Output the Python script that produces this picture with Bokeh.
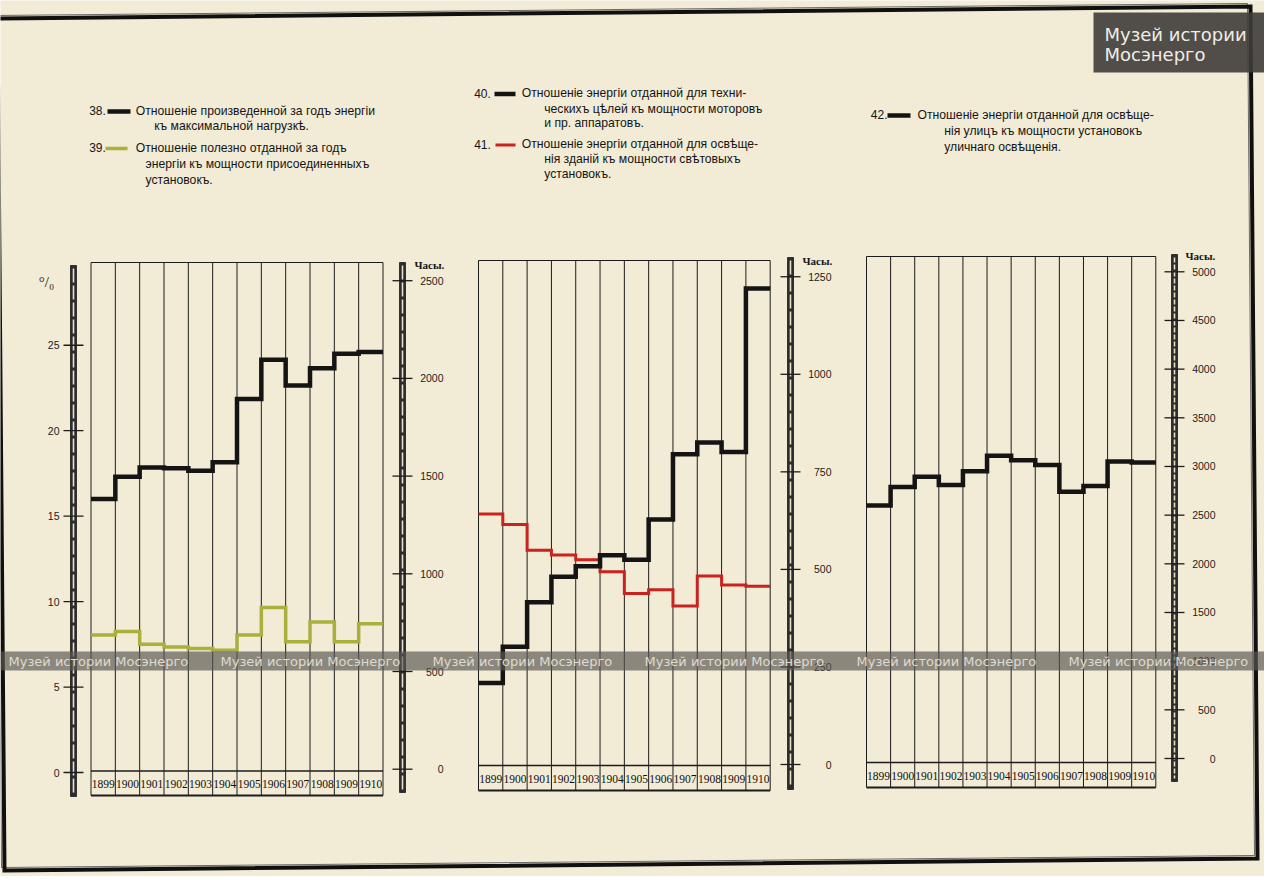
from bokeh.plotting import figure
from bokeh.models import Range1d
from bokeh.core.properties import value
from bokeh.embed import file_html
from bokeh.resources import INLINE

# ---------------- data ----------------
years = [1899, 1900, 1901, 1902, 1903, 1904, 1905, 1906, 1907, 1908, 1909, 1910]
year_labels = ["1899", "1900", "1901", "1902", "1903", "1904",
               "1905", "1906", "1907", "1908", "1909", "1910"]

# panel 1 (%)
s38_energy_to_max_load = [16.0, 17.3, 17.85, 17.8, 17.65, 18.15, 21.85, 24.15, 22.65, 23.65, 24.5, 24.6]
s39_useful_to_connected = [8.05, 8.25, 7.5, 7.35, 7.25, 7.15, 8.05, 9.65, 7.65, 8.8, 7.65, 8.7]
# panel 2 (hours)
s40_technical = [209, 302, 416, 481, 508, 536, 525, 628, 795, 825, 801, 1220]
s41_buildings = [642, 615, 549, 537, 525, 494, 438, 448, 406, 483, 460, 457]
# panel 3 (hours)
s42_streets = [2600, 2790, 2895, 2810, 2950, 3110, 3065, 3015, 2740, 2800, 3050, 3040]

ticks_p1_pct = [0, 5, 10, 15, 20, 25]
ticks_p1_hours = [0, 500, 1000, 1500, 2000, 2500]
ticks_p2_hours = [0, 250, 500, 750, 1000, 1250]
ticks_p3_hours = [0, 500, 1000, 1500, 2000, 2500, 3000, 3500, 4000, 4500, 5000]

# ---------------- style / layout ----------------
W, H = 1264, 876
CREAM = "#f2ebd5"
INK = "#1c1c1c"
BLACK = "#141414"
GREEN = "#a9b03c"
RED = "#c9221f"
SANS = value("Liberation Sans")
SERIF = value("Liberation Serif")

p = figure(width=W, height=H, x_range=Range1d(0, W), y_range=Range1d(H, 0),
           output_backend="svg", toolbar_location=None, min_border=0,
           x_axis_location=None, y_axis_location=None,
           background_fill_color=CREAM, border_fill_color=CREAM,
           outline_line_color=None)
p.grid.visible = False


def xrange_for(left, right):
    s = (right - left) / 12.0
    return Range1d(years[0] - left / s, years[0] + (W - left) / s)


def yrange_for(zero, px_per_unit):
    return Range1d((zero - H) / px_per_unit, zero / px_per_unit)


panels = {
    "1": dict(left=90.5, right=382.5, top=262, zero=770.5, row_bottom=795),
    "2": dict(left=478, right=769.7, top=260, zero=765, row_bottom=790),
    "3": dict(left=866, right=1155.3, top=256, zero=762, row_bottom=787),
}
p.extra_x_ranges = {"x" + k: xrange_for(v["left"], v["right"]) for k, v in panels.items()}
p.extra_y_ranges = {
    "y1pct": yrange_for(772, 17.09),
    "y1h": yrange_for(768.7, 0.1954),
    "y2": yrange_for(764.0, 0.3902),
    "y3": yrange_for(758.0, 0.09734),
}

# ---------------- page border (slightly rotated scan) ----------------
bx = [-3, 1250, 1257, 4, -3]
by = [18, 6, 858, 870, 18]
p.line([x - 3 for x in bx], [y - 3 for y in by], line_color="#6a6a6a", line_width=1)
p.line(bx, by, line_color="#101010", line_width=4, line_join="miter")

# ---------------- panel boxes ----------------
edges = years + [years[-1] + 1]
for k, v in panels.items():
    xr = "x" + k
    p.segment(x0=edges, x1=edges, y0=[v["top"]] * len(edges), y1=[v["row_bottom"]] * len(edges),
              x_range_name=xr, line_color=INK, line_width=1)
    p.segment(x0=[edges[0]] * 3, x1=[edges[-1]] * 3,
              y0=[v["top"], v["zero"], v["row_bottom"]], y1=[v["top"], v["zero"], v["row_bottom"]],
              x_range_name=xr, line_color=INK, line_width=[1, 1.4, 2])
    p.text(x=[y + 0.5 for y in years], y=[(v["zero"] + v["row_bottom"]) / 2 + 1] * len(years),
           text=year_labels, x_range_name=xr, text_align="center", text_baseline="middle",
           text_font=SERIF, text_font_size="11.5px", text_color="#111111")


# ---------------- rulers (scale bars) ----------------
def ruler(x, top, bottom, ticks, yr, label_x, dash):
    p.quad(left=x - 3, right=x + 3, top=top, bottom=bottom,
           fill_color="#2c2c2c", line_color="#1a1a1a", line_width=0.8)
    p.segment(x0=x, x1=x, y0=top + 3, y1=bottom - 3, line_color="#e6e0cc",
              line_width=1.6, line_dash=dash)
    n = len(ticks)
    p.segment(x0=[x - 10] * n, x1=[x + 10] * n, y0=ticks, y1=ticks, y_range_name=yr,
              line_color=INK, line_width=1.3)
    p.text(x=[label_x] * n, y=ticks, text=[str(t) for t in ticks], y_range_name=yr,
           text_align="right", text_baseline="middle", text_font=SANS,
           text_font_size="10.5px", text_color="#222222")


ruler(73, 265, 796, ticks_p1_pct, "y1pct", 59, "14 3")
ruler(402, 262, 792, ticks_p1_hours, "y1h", 443, "14 3")
ruler(790, 257, 789, ticks_p2_hours, "y2", 831, "14 3")
ruler(1174, 254, 781, ticks_p3_hours, "y3", 1215, "5 2")

p.text(x=[414, 802, 1185], y=[264, 260, 255], text=["Часы.", "Часы.", "Часы."],
       text_baseline="middle", text_font=SERIF, text_font_style="bold",
       text_font_size="11px", text_color="#151515")
p.text(x=[46], y=[281], text=["°/₀"], text_align="center", text_baseline="middle",
       text_font=SERIF, text_font_size="15px", text_color="#151515")

# ---------------- series ----------------
def steps(vals, xr, yr, color, width):
    p.step(x=edges, y=vals + [vals[-1]], mode="after", x_range_name=xr, y_range_name=yr,
           line_color=color, line_width=width, line_join="miter")


steps(s39_useful_to_connected, "x1", "y1pct", GREEN, 3.5)
steps(s38_energy_to_max_load, "x1", "y1pct", BLACK, 4.5)
steps(s41_buildings, "x2", "y2", RED, 3)
steps(s40_technical, "x2", "y2", BLACK, 4.5)
steps(s42_streets, "x3", "y3", BLACK, 4.5)

# ---------------- legends ----------------
leg_nums = dict(x=[88.7, 88.7, 473.7, 473.7, 870.3], y=[110, 147, 92.7, 143.7, 114.3],
                text=["38.", "39.", "40.", "41.", "42."])
p.text(**leg_nums, text_baseline="middle", text_font=SANS, text_font_size="12px",
       text_color="#151515")
p.segment(x0=[107, 105, 494, 495, 887], x1=[130, 127, 515, 515, 910],
          y0=[111, 148, 93.5, 144.5, 115], y1=[111, 148, 93.5, 144.5, 115],
          line_color=[BLACK, GREEN, BLACK, RED, BLACK], line_width=[4.5, 3.5, 4.5, 3, 4.5])

leg_lines = [
    (135.3, 110, "Отношеніе произведенной за годъ энергіи"),
    (153.7, 125, "къ максимальной нагрузкѣ."),
    (135.3, 147, "Отношеніе  полезно  отданной  за  годъ"),
    (145, 163, "энергіи къ мощности присоединенныхъ"),
    (145, 179, "установокъ."),
    (521.3, 92.7, "Отношеніе энергіи отданной для техни-"),
    (543.7, 108, "ческихъ цѣлей къ мощности моторовъ"),
    (543.7, 122.5, "и пр. аппаратовъ."),
    (521.3, 143.7, "Отношеніе энергіи отданной для освѣще-"),
    (543.7, 158.7, "нія зданій къ мощности свѣтовыхъ"),
    (543.7, 173.7, "установокъ."),
    (917, 114.3, "Отношеніе энергіи отданной для освѣще-"),
    (943.7, 130.3, "нія улицъ къ мощности установокъ"),
    (943.7, 146.3, "уличнаго освѣщенія."),
]
p.text(x=[t[0] for t in leg_lines], y=[t[1] for t in leg_lines], text=[t[2] for t in leg_lines],
       text_baseline="middle", text_font=SANS, text_font_size="12.2px", text_color="#151515")

# ---------------- museum watermarks ----------------
p.quad(left=[0], right=[W], top=[651], bottom=[670], fill_color="#5a5752", fill_alpha=0.68,
       line_color=None)
p.text(x=[8, 220, 432, 644, 856, 1068], y=[661] * 6, text=["Музей истории Мосэнерго"] * 6,
       text_baseline="middle", text_font=value("DejaVu Sans"), text_font_size="13px",
       text_color="#dedad0")
p.quad(left=[1093], right=[W], top=[12], bottom=[72], fill_color="#3f3d3a", fill_alpha=0.9,
       line_color=None)
p.text(x=[1104, 1104], y=[34, 54], text=["Музей истории", "Мосэнерго"],
       text_baseline="middle", text_font=value("DejaVu Sans"), text_font_size="18px",
       text_color="#efede6")

open("out.html", "w").write(file_html(p, INLINE))
